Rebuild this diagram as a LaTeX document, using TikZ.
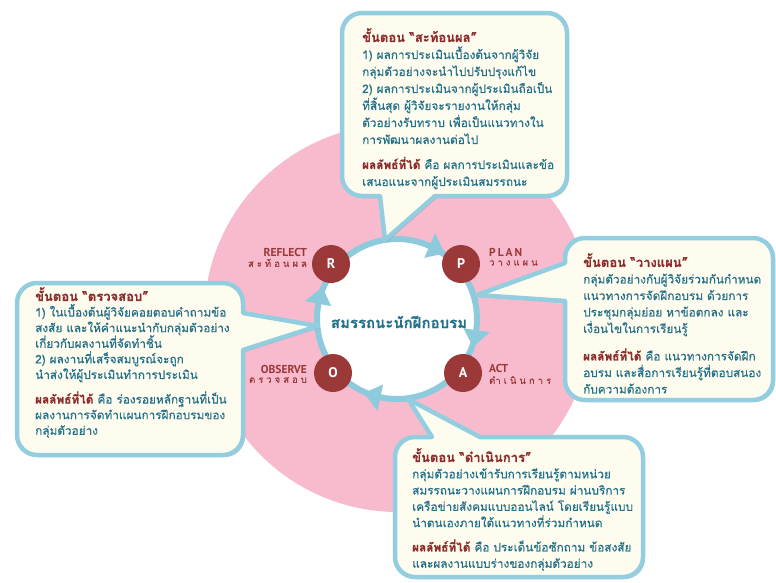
\documentclass[tikz,border=0pt]{standalone}
\usepackage{fontspec}
\newfontfamily\thaifont[Script=Thai,FakeBold=0.5]{Loma}
\newfontfamily\labfont{PT Sans}
\usetikzlibrary{calc,shadows}
\definecolor{pinkbg}{HTML}{F8BBCD}
\definecolor{ringblue}{HTML}{8DCADC}
\definecolor{boxblue}{HTML}{93CDE0}
\definecolor{cream}{HTML}{FDFCEE}
\definecolor{darkred}{HTML}{9B3838}
\definecolor{titlered}{HTML}{8E2B2B}
\definecolor{tealtext}{HTML}{25718A}
\begin{document}
\begin{tikzpicture}[x=1pt,y=-1pt,
  callout/.style={draw=boxblue,line width=4.5pt,fill=cream,line join=round,
    drop shadow={shadow xshift=2pt,shadow yshift=-2pt,opacity=0.3,fill=black!60}},
  bodytext/.style={anchor=north west,inner sep=0pt,align=left,text=tealtext,
    font=\thaifont\fontsize{11.8}{17}\selectfont},
  stepcirc/.style={circle,fill=darkred,minimum size=38pt,inner sep=0pt,text=white,
    font=\labfont\bfseries\fontsize{14}{14}\selectfont},
  labtxt/.style={inner sep=0pt,text=darkred,font=\labfont\bfseries\fontsize{11.5}{11.5}\selectfont},
  labthai/.style={inner sep=0pt,text=darkred,font=\thaifont\fontsize{9.5}{9.5}\selectfont}]
\useasboundingbox (0,0) rectangle (776,582);
\fill[white] (0,0) rectangle (776,582);
\fill[pinkbg] (398,318) circle (194);
\coordinate (ctr) at (397,319);
\draw[ringblue,line width=6pt,fill=white] (ctr) circle (80);
\foreach \b/\t in {-66/-54, 8/20, 102/114, 191/203}{
  \fill[ringblue] ($(ctr)+(\t:81)$) -- ($(ctr)+(\b:67)$) -- ($(ctr)+(\b:94)$) -- cycle;}
\node[stepcirc] (R) at (331,264) {R};
\node[stepcirc] (P) at (461,264) {P};
\node[stepcirc] (O) at (333,373) {O};
\node[stepcirc] (A) at (463,373) {A};
\node[labtxt,anchor=east] (lR1) at (307,252) {REFLECT};
\node[labthai,anchor=east] (lR2) at (307,263) {ส\kern3ptะ\kern3ptท้\kern3ptอ\kern3ptน\kern3ptผ\kern3ptล};
\node[labtxt,anchor=west] (lP1) at (489,252) {P\kern2ptL\kern2ptA\kern2ptN};
\node[labthai,anchor=west] (lP2) at (489,263) {ว\kern3ptา\kern3ptง\kern3ptแ\kern3ptผ\kern3ptน};
\node[labtxt,anchor=east] (lO1) at (307,369) {OBSERVE};
\node[labthai,anchor=east] (lO2) at (307,380) {ต\kern3ptร\kern3ptว\kern3ptจ\kern3ptส\kern3ptอ\kern3ptบ};
\node[labtxt,anchor=west] (lA1) at (489,368) {ACT};
\node[labthai,anchor=west] (lA2) at (489,380) {ดำ\kern3ptเ\kern3ptนิ\kern3ptน\kern3ptก\kern3ptา\kern3ptร};
\node[inner sep=0pt,text=tealtext,font=\thaifont\bfseries\fontsize{15}{15}\selectfont] (center) at (399,322) {สมรรถนะนักฝึกอบรม};
% top callout
\path[callout] (362,13) -- (547,13) arc[start angle=270,end angle=360,radius=20] -- (567,176) arc[start angle=0,end angle=90,radius=20] -- (435,196) -- (385,240) -- (380,196) -- (362,196) arc[start angle=90,end angle=180,radius=20] -- (342,33) arc[start angle=180,end angle=270,radius=20] -- cycle;
% right callout
\path[callout] (585,238) -- (753,238) arc[start angle=270,end angle=360,radius=20] -- (773,380) arc[start angle=0,end angle=90,radius=20] -- (585,400) arc[start angle=90,end angle=180,radius=20] -- (565,301) -- (477,295) -- (565,263) -- (565,258) arc[start angle=180,end angle=270,radius=20] -- cycle;
% left callout
\path[callout] (37,283) -- (223,283) arc[start angle=270,end angle=360,radius=20] -- (243,313) -- (318,326) -- (243,350) -- (243,435) arc[start angle=0,end angle=90,radius=20] -- (37,455) arc[start angle=90,end angle=180,radius=20] -- (17,303) arc[start angle=180,end angle=270,radius=20] -- cycle;
% bottom callout
\path[callout] (415,437) -- (432,437) -- (408,399) -- (480,437) -- (623,437) arc[start angle=270,end angle=360,radius=20] -- (643,557) arc[start angle=0,end angle=90,radius=20] -- (415,577) arc[start angle=90,end angle=180,radius=20] -- (395,457) arc[start angle=180,end angle=270,radius=20] -- cycle;
% texts
\node[bodytext] (tTop) at (362,28) {{\bfseries\color{titlered}\fontsize{13}{17}\selectfont ขั้นตอน “สะท้อนผล”}\\
1) ผลการประเมินเบื้องต้นจากผู้วิจัย\\
กลุ่มตัวอย่างจะนำไปปรับปรุงแก้ไข\\
2) ผลการประเมินจากผู้ประเมินถือเป็น\\
ที่สิ้นสุด ผู้วิจัยจะรายงานให้กลุ่ม\\
ตัวอย่างรับทราบ เพื่อเป็นแนวทางใน\\
การพัฒนาผลงานต่อไป\\[8pt]
{\bfseries\color{titlered}ผลลัพธ์ที่ได้} คือ ผลการประเมินและข้อ\\
เสนอแนะจากผู้ประเมินสมรรถนะ};
\node[bodytext,font=\thaifont\fontsize{11.8}{16.5}\selectfont] (tRight) at (583,253) {{\bfseries\color{titlered}\fontsize{13}{16.5}\selectfont ขั้นตอน “วางแผน”}\\
กลุ่มตัวอย่างกับผู้วิจัยร่วมกันกำหนด\\
แนวทางการจัดฝึกอบรม ด้วยการ\\
ประชุมกลุ่มย่อย หาข้อตกลง และ\\
เงื่อนไขในการเรียนรู้\\[11pt]
{\bfseries\color{titlered}ผลลัพธ์ที่ได้} คือ แนวทางการจัดฝึก\\
อบรม และสื่อการเรียนรู้ที่ตอบสนอง\\
กับความต้องการ};
\node[bodytext,font=\thaifont\fontsize{11.8}{15.6}\selectfont] (tLeft) at (35,287) {{\bfseries\color{titlered}\fontsize{13}{15.6}\selectfont ขั้นตอน “ตรวจสอบ”}\\
1) ในเบื้องต้นผู้วิจัยคอยตอบคำถามข้อ\\
สงสัย และให้คำแนะนำกับกลุ่มตัวอย่าง\\
เกี่ยวกับผลงานที่จัดทำชิ้น\\
2) ผลงานที่เสร็จสมบูรณ์จะถูก\\
นำส่งให้ผู้ประเมินทำการประเมิน\\[9pt]
{\bfseries\color{titlered}ผลลัพธ์ที่ได้} คือ ร่องรอยหลักฐานที่เป็น\\
ผลงานการจัดทำแผนการฝึกอบรมของ\\
กลุ่มตัวอย่าง};
\node[bodytext,font=\thaifont\fontsize{11.8}{16.3}\selectfont] (tBot) at (412,448) {{\bfseries\color{titlered}\fontsize{13}{16.3}\selectfont ขั้นตอน “ดำเนินการ”}\\
กลุ่มตัวอย่างเข้ารับการเรียนรู้ตามหน่วย\\
สมรรถนะวางแผนการฝึกอบรม ผ่านบริการ\\
เครือข่ายสังคมแบบออนไลน์ โดยเรียนรู้แบบ\\
นำตนเองภายใต้แนวทางที่ร่วมกำหนด\\[8pt]
{\bfseries\color{titlered}ผลลัพธ์ที่ได้} คือ ประเด็นข้อซักถาม ข้อสงสัย\\
และผลงานแบบร่างของกลุ่มตัวอย่าง};
\end{tikzpicture}
\end{document}
